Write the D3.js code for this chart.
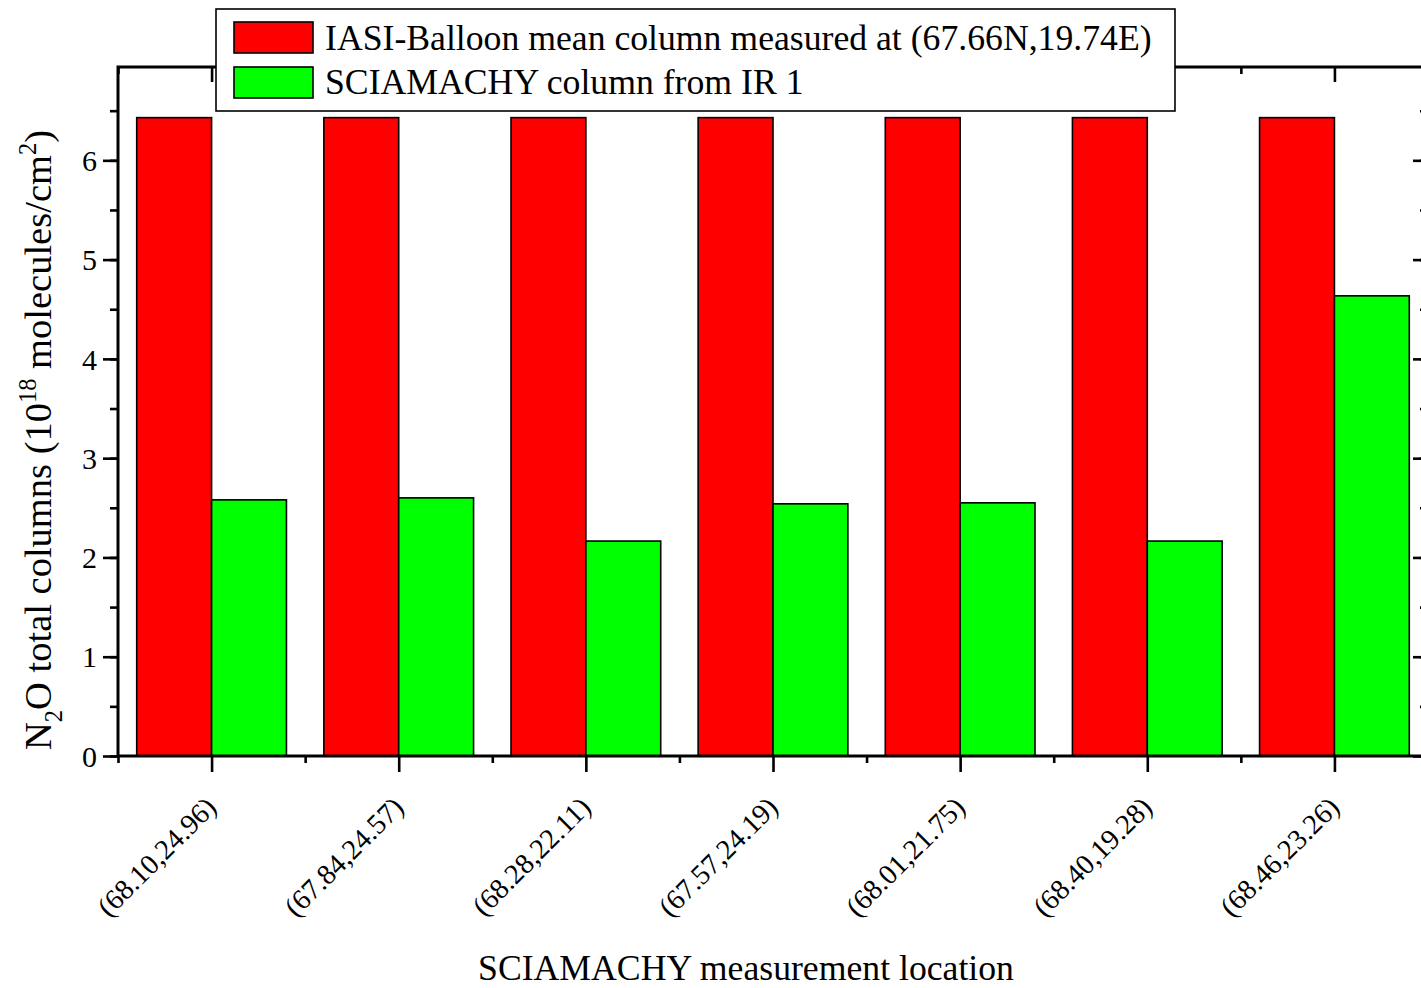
<!DOCTYPE html>
<html><head><meta charset="utf-8">
<script src="https://cdn.jsdelivr.net/npm/d3@7"></script>
<style>body{margin:0;background:#fff}svg{display:block}text{font-family:"Times New Roman","Liberation Serif",Times,serif !important;fill:#000}</style>
</head><body>
<script>
const categories = ["(68.10,24.96)","(67.84,24.57)","(68.28,22.11)","(67.57,24.19)","(68.01,21.75)","(68.40,19.28)","(68.46,23.26)"];
const iasiValues = [6.43,6.43,6.43,6.43,6.43,6.43,6.43];
const sciaValues = [2.58,2.60,2.165,2.54,2.55,2.165,4.635];
const yTicks = [0,1,2,3,4,5,6];
const seriesNames = ["IASI-Balloon mean column measured at (67.66N,19.74E)","SCIAMACHY column from IR 1"];
const seriesColors = ["#ff0000","#00ff00"];

const W=1421,H=988;
const L=118,R=1428,T=67,B=756;
const svg=d3.select("body").append("svg").attr("width",W).attr("height",H);
const x=d3.scaleLinear().domain([0.5,categories.length+0.5]).range([L,R]);
const y=d3.scaleLinear().domain([0,6.94]).range([B,T]);
const bw=0.4;

// bars
const g=svg.append("g");
[iasiValues,sciaValues].forEach((vals,si)=>{
  g.selectAll(null).data(vals).enter().append("rect")
   .attr("x",(d,i)=>si===0?x(i+1-bw):x(i+1))
   .attr("width",x(1+bw)-x(1))
   .attr("y",d=>y(d)).attr("height",d=>y(0)-y(d))
   .attr("fill",seriesColors[si]).attr("stroke","#000").attr("stroke-width",1.6);
});

const minorY=d3.range(0,7,0.5);
const minorX=d3.range(0.5,categories.length+1,1);
// left axis
svg.append("g").attr("transform",`translate(${L},0)`).call(d3.axisLeft(y).tickValues(minorY).tickSize(8).tickFormat(""));
svg.append("g").attr("class","lm").attr("transform",`translate(${L},0)`)
  .call(d3.axisLeft(y).tickValues(yTicks).tickSize(15).tickPadding(6).tickFormat(d3.format("d")));
// right axis (inward)
svg.append("g").attr("transform",`translate(${R},0)`).call(d3.axisLeft(y).tickValues(minorY).tickSize(8).tickFormat(""));
svg.append("g").attr("transform",`translate(${R},0)`).call(d3.axisLeft(y).tickValues(yTicks).tickSize(15).tickFormat(""));
// bottom axis
svg.append("g").attr("transform",`translate(0,${B})`).call(d3.axisBottom(x).tickValues(minorX).tickSize(7).tickFormat(""));
const bot=svg.append("g").attr("class","bm").attr("transform",`translate(0,${B})`)
  .call(d3.axisBottom(x).tickValues(d3.range(1,categories.length+1)).tickSize(16).tickFormat(i=>categories[i-1]));
// top axis inward
svg.append("g").attr("transform",`translate(0,${T})`).call(d3.axisBottom(x).tickValues(minorX).tickSize(7).tickFormat(""));
svg.append("g").attr("transform",`translate(0,${T})`).call(d3.axisBottom(x).tickValues(d3.range(1,categories.length+1)).tickSize(15).tickFormat(""));

svg.selectAll(".domain").remove();
svg.selectAll(".tick line").attr("stroke","#000").attr("stroke-width",2.6);
// frame
svg.append("rect").attr("x",L).attr("y",T).attr("width",R-L).attr("height",B-T)
  .attr("fill","none").attr("stroke","#000").attr("stroke-width",3);

svg.selectAll(".lm text").style("font-size","30px").attr("dy","0.34em");
bot.selectAll("text").style("font-size","28.5px")
  .attr("text-anchor","end").attr("dy",null).attr("y",0)
  .attr("transform","translate(6,53) rotate(-45)");

// axis titles
svg.append("text").attr("x",746).attr("y",980).attr("text-anchor","middle")
  .style("font-size","35.7px").text("SCIAMACHY measurement location");
const yt=svg.append("text").attr("transform","translate(51,440) rotate(-90)").attr("text-anchor","middle").style("font-size","38.5px");
yt.append("tspan").text("N");
yt.append("tspan").text("2").style("font-size","24.5px").attr("dy",11);
yt.append("tspan").text("O total columns (10").attr("dy",-11);
yt.append("tspan").text("18").style("font-size","24.5px").attr("dy",-15);
yt.append("tspan").text(" molecules/cm").attr("dy",15);
yt.append("tspan").text("2").style("font-size","24.5px").attr("dy",-15);
yt.append("tspan").text(")").attr("dy",15);

// legend
const lg=svg.append("g");
lg.append("rect").attr("x",216).attr("y",9).attr("width",959).attr("height",102)
  .attr("fill","#fff").attr("stroke","#000").attr("stroke-width",1.6);
seriesNames.forEach((n,i)=>{
  lg.append("rect").attr("x",234).attr("y",22+i*45).attr("width",79).attr("height",31)
    .attr("fill",seriesColors[i]).attr("stroke","#000").attr("stroke-width",1.6);
  lg.append("text").attr("x",325).attr("y",50+i*44).style("font-size","35.7px").text(n);
});
</script>
</body></html>
